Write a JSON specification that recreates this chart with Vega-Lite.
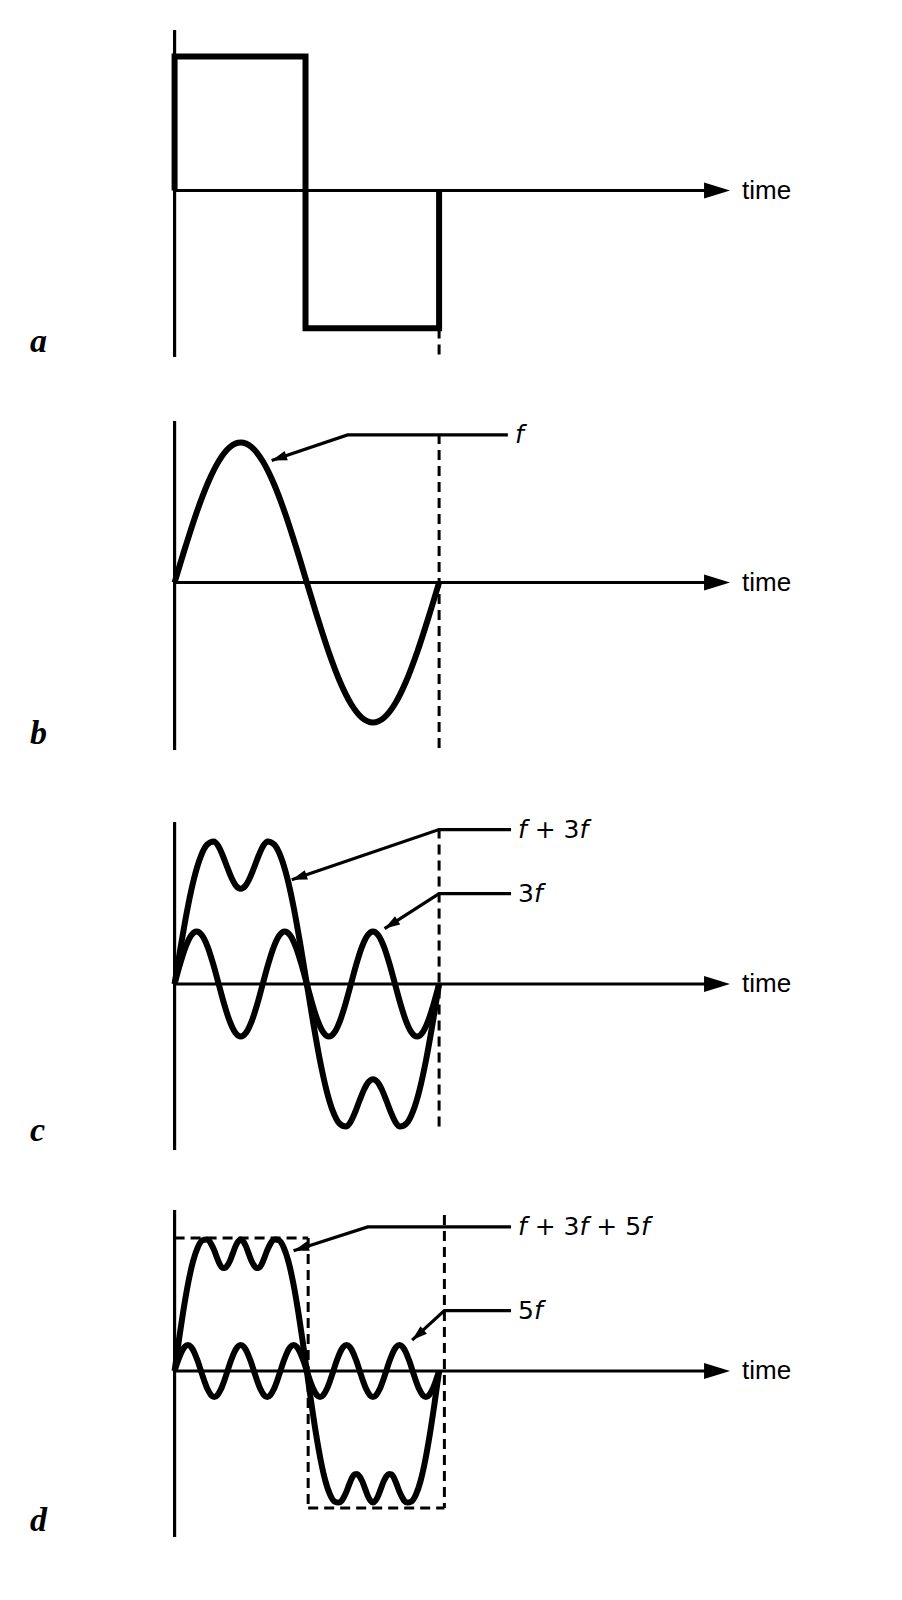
{
  "$schema": "https://vega.github.io/schema/vega-lite/v6.json",
  "padding": 0,
  "spacing": 0,
  "bounds": "flush",
  "background": "white",
  "config": {"view": {"stroke": null}},
  "datasets": {
    "axes": [
      {"panel": "a", "kind": "axis", "t": 0, "t2": 0, "v": 1.146, "v2": -1.189},
      {"panel": "a", "kind": "axis", "t": 0, "t2": 2.05, "v": 0, "v2": 0},
      {"panel": "a", "kind": "guide", "t": 1, "t2": 1, "v": -0.985, "v2": -1.189},
      {"panel": "b", "kind": "axis", "t": 0, "t2": 0, "v": 1.154, "v2": -1.196},
      {"panel": "b", "kind": "axis", "t": 0, "t2": 2.05, "v": 0, "v2": 0},
      {"panel": "b", "kind": "guide", "t": 1, "t2": 1, "v": 1.061, "v2": -1.196},
      {"panel": "c", "kind": "axis", "t": 0, "t2": 0, "v": 1.157, "v2": -1.186},
      {"panel": "c", "kind": "axis", "t": 0, "t2": 2.05, "v": 0, "v2": 0},
      {"panel": "c", "kind": "guide", "t": 1, "t2": 1, "v": 1.11, "v2": -1.054},
      {"panel": "d", "kind": "axis", "t": 0, "t2": 0, "v": 1.15, "v2": -1.186},
      {"panel": "d", "kind": "axis", "t": 0, "t2": 2.05, "v": 0, "v2": 0},
      {"panel": "d", "kind": "guide", "t": 0, "t2": 0.505, "v": 0.95, "v2": 0.95},
      {"panel": "d", "kind": "guide", "t": 0.505, "t2": 0.505, "v": 0.95, "v2": -0.979},
      {"panel": "d", "kind": "guide", "t": 0.505, "t2": 1.02, "v": -0.979, "v2": -0.979},
      {"panel": "d", "kind": "guide", "t": 1.02, "t2": 1.02, "v": 1.114, "v2": -0.979}
    ],
    "axisTips": [
      {"panel": "a", "t": 2.1, "v": 0},
      {"panel": "b", "t": 2.1, "v": 0},
      {"panel": "c", "t": 2.1, "v": 0},
      {"panel": "d", "t": 2.1, "v": 0}
    ],
    "timeLabels": [
      {"panel": "a", "t": 2.145, "v": 0, "text": "time"},
      {"panel": "b", "t": 2.145, "v": 0, "text": "time"},
      {"panel": "c", "t": 2.145, "v": 0, "text": "time"},
      {"panel": "d", "t": 2.145, "v": 0, "text": "time"}
    ],
    "letters": [
      {"panel": "a", "t": -0.547, "v": -1.154, "text": "a"},
      {"panel": "b", "t": -0.547, "v": -1.154, "text": "b"},
      {"panel": "c", "t": -0.547, "v": -1.121, "text": "c"},
      {"panel": "d", "t": -0.547, "v": -1.143, "text": "d"}
    ],
    "square": [
      {"seq": 0, "t": 0, "v": 0},
      {"seq": 1, "t": 0, "v": 0.957},
      {"seq": 2, "t": 0.495, "v": 0.957},
      {"seq": 3, "t": 0.495, "v": -0.984},
      {"seq": 4, "t": 1, "v": -0.984},
      {"seq": 5, "t": 1, "v": 0}
    ],
    "sineF": [
      {"t": 0, "v": 0}, {"t": 0.0417, "v": 0.2588}, {"t": 0.0833, "v": 0.5}, {"t": 0.125, "v": 0.7071},
      {"t": 0.1667, "v": 0.866}, {"t": 0.2083, "v": 0.9659}, {"t": 0.25, "v": 1}, {"t": 0.2917, "v": 0.9659},
      {"t": 0.3333, "v": 0.866}, {"t": 0.375, "v": 0.7071}, {"t": 0.4167, "v": 0.5}, {"t": 0.4583, "v": 0.2588},
      {"t": 0.5, "v": 0}, {"t": 0.5417, "v": -0.2588}, {"t": 0.5833, "v": -0.5}, {"t": 0.625, "v": -0.7071},
      {"t": 0.6667, "v": -0.866}, {"t": 0.7083, "v": -0.9659}, {"t": 0.75, "v": -1}, {"t": 0.7917, "v": -0.9659},
      {"t": 0.8333, "v": -0.866}, {"t": 0.875, "v": -0.7071}, {"t": 0.9167, "v": -0.5}, {"t": 0.9583, "v": -0.2588},
      {"t": 1, "v": 0}
    ],
    "sumC": [
      {"t": 0, "v": 0}, {"t": 0.0247, "v": 0.2837}, {"t": 0.0493, "v": 0.543}, {"t": 0.074, "v": 0.7568},
      {"t": 0.0987, "v": 0.91}, {"t": 0.1233, "v": 0.9964}, {"t": 0.148, "v": 1.0182}, {"t": 0.165, "v": 0.9864},
      {"t": 0.182, "v": 0.918}, {"t": 0.199, "v": 0.8339}, {"t": 0.216, "v": 0.7552}, {"t": 0.233, "v": 0.6998},
      {"t": 0.25, "v": 0.68}, {"t": 0.267, "v": 0.6998}, {"t": 0.284, "v": 0.7552}, {"t": 0.301, "v": 0.8339},
      {"t": 0.318, "v": 0.918}, {"t": 0.335, "v": 0.9864}, {"t": 0.352, "v": 1.0182}, {"t": 0.3767, "v": 0.9964},
      {"t": 0.4013, "v": 0.91}, {"t": 0.426, "v": 0.7568}, {"t": 0.4507, "v": 0.543}, {"t": 0.4753, "v": 0.2837},
      {"t": 0.5, "v": 0}, {"t": 0.5247, "v": -0.2837}, {"t": 0.5493, "v": -0.543}, {"t": 0.574, "v": -0.7568},
      {"t": 0.5987, "v": -0.91}, {"t": 0.6233, "v": -0.9964}, {"t": 0.648, "v": -1.0182}, {"t": 0.665, "v": -0.9864},
      {"t": 0.682, "v": -0.918}, {"t": 0.699, "v": -0.8339}, {"t": 0.716, "v": -0.7552}, {"t": 0.733, "v": -0.6998},
      {"t": 0.75, "v": -0.68}, {"t": 0.767, "v": -0.6998}, {"t": 0.784, "v": -0.7552}, {"t": 0.801, "v": -0.8339},
      {"t": 0.818, "v": -0.918}, {"t": 0.835, "v": -0.9864}, {"t": 0.852, "v": -1.0182}, {"t": 0.8767, "v": -0.9964},
      {"t": 0.9013, "v": -0.91}, {"t": 0.926, "v": -0.7568}, {"t": 0.9507, "v": -0.543}, {"t": 0.9753, "v": -0.2837},
      {"t": 1, "v": 0}
    ],
    "threeF": [
      {"t": 0, "v": 0}, {"t": 0.0208, "v": 0.1435}, {"t": 0.0417, "v": 0.2652}, {"t": 0.0625, "v": 0.3465},
      {"t": 0.0833, "v": 0.375}, {"t": 0.1042, "v": 0.3465}, {"t": 0.125, "v": 0.2652}, {"t": 0.1458, "v": 0.1435},
      {"t": 0.1667, "v": 0}, {"t": 0.1875, "v": -0.1435}, {"t": 0.2083, "v": -0.2652}, {"t": 0.2292, "v": -0.3465},
      {"t": 0.25, "v": -0.375}, {"t": 0.2708, "v": -0.3465}, {"t": 0.2917, "v": -0.2652}, {"t": 0.3125, "v": -0.1435},
      {"t": 0.3333, "v": 0}, {"t": 0.3542, "v": 0.1435}, {"t": 0.375, "v": 0.2652}, {"t": 0.3958, "v": 0.3465},
      {"t": 0.4167, "v": 0.375}, {"t": 0.4375, "v": 0.3465}, {"t": 0.4583, "v": 0.2652}, {"t": 0.4792, "v": 0.1435},
      {"t": 0.5, "v": 0}, {"t": 0.5208, "v": -0.1435}, {"t": 0.5417, "v": -0.2652}, {"t": 0.5625, "v": -0.3465},
      {"t": 0.5833, "v": -0.375}, {"t": 0.6042, "v": -0.3465}, {"t": 0.625, "v": -0.2652}, {"t": 0.6458, "v": -0.1435},
      {"t": 0.6667, "v": 0}, {"t": 0.6875, "v": 0.1435}, {"t": 0.7083, "v": 0.2652}, {"t": 0.7292, "v": 0.3465},
      {"t": 0.75, "v": 0.375}, {"t": 0.7708, "v": 0.3465}, {"t": 0.7917, "v": 0.2652}, {"t": 0.8125, "v": 0.1435},
      {"t": 0.8333, "v": 0}, {"t": 0.8542, "v": -0.1435}, {"t": 0.875, "v": -0.2652}, {"t": 0.8958, "v": -0.3465},
      {"t": 0.9167, "v": -0.375}, {"t": 0.9375, "v": -0.3465}, {"t": 0.9583, "v": -0.2652}, {"t": 0.9792, "v": -0.1435},
      {"t": 1, "v": 0}
    ],
    "sumD": [
      {"t": 0, "v": 0}, {"t": 0.0175, "v": 0.2345}, {"t": 0.035, "v": 0.4524}, {"t": 0.0525, "v": 0.6393},
      {"t": 0.07, "v": 0.7847}, {"t": 0.0875, "v": 0.8827}, {"t": 0.105, "v": 0.9328}, {"t": 0.1203, "v": 0.94},
      {"t": 0.1303, "v": 0.93}, {"t": 0.1403, "v": 0.9}, {"t": 0.1503, "v": 0.86}, {"t": 0.1602, "v": 0.81},
      {"t": 0.1702, "v": 0.765}, {"t": 0.1802, "v": 0.738}, {"t": 0.1902, "v": 0.735}, {"t": 0.2001, "v": 0.755},
      {"t": 0.2101, "v": 0.79}, {"t": 0.2201, "v": 0.84}, {"t": 0.2301, "v": 0.89}, {"t": 0.24, "v": 0.925},
      {"t": 0.25, "v": 0.94}, {"t": 0.26, "v": 0.925}, {"t": 0.2699, "v": 0.89}, {"t": 0.2799, "v": 0.84},
      {"t": 0.2899, "v": 0.79}, {"t": 0.2999, "v": 0.755}, {"t": 0.3098, "v": 0.735}, {"t": 0.3198, "v": 0.738},
      {"t": 0.3298, "v": 0.765}, {"t": 0.3397, "v": 0.81}, {"t": 0.3497, "v": 0.86}, {"t": 0.3597, "v": 0.9},
      {"t": 0.3697, "v": 0.93}, {"t": 0.3797, "v": 0.94}, {"t": 0.395, "v": 0.9328}, {"t": 0.4125, "v": 0.8827},
      {"t": 0.43, "v": 0.7847}, {"t": 0.4475, "v": 0.6393}, {"t": 0.465, "v": 0.4524}, {"t": 0.4825, "v": 0.2345},
      {"t": 0.5, "v": 0},
      {"t": 0.5175, "v": -0.2345}, {"t": 0.535, "v": -0.4524}, {"t": 0.5525, "v": -0.6393},
      {"t": 0.57, "v": -0.7847}, {"t": 0.5875, "v": -0.8827}, {"t": 0.605, "v": -0.9328}, {"t": 0.6203, "v": -0.94},
      {"t": 0.6303, "v": -0.93}, {"t": 0.6403, "v": -0.9}, {"t": 0.6503, "v": -0.86}, {"t": 0.6602, "v": -0.81},
      {"t": 0.6702, "v": -0.765}, {"t": 0.6802, "v": -0.738}, {"t": 0.6902, "v": -0.735}, {"t": 0.7001, "v": -0.755},
      {"t": 0.7101, "v": -0.79}, {"t": 0.7201, "v": -0.84}, {"t": 0.7301, "v": -0.89}, {"t": 0.74, "v": -0.925},
      {"t": 0.75, "v": -0.94}, {"t": 0.76, "v": -0.925}, {"t": 0.7699, "v": -0.89}, {"t": 0.7799, "v": -0.84},
      {"t": 0.7899, "v": -0.79}, {"t": 0.7999, "v": -0.755}, {"t": 0.8098, "v": -0.735}, {"t": 0.8198, "v": -0.738},
      {"t": 0.8298, "v": -0.765}, {"t": 0.8397, "v": -0.81}, {"t": 0.8497, "v": -0.86}, {"t": 0.8597, "v": -0.9},
      {"t": 0.8697, "v": -0.93}, {"t": 0.8797, "v": -0.94}, {"t": 0.895, "v": -0.9328}, {"t": 0.9125, "v": -0.8827},
      {"t": 0.93, "v": -0.7847}, {"t": 0.9475, "v": -0.6393}, {"t": 0.965, "v": -0.4524}, {"t": 0.9825, "v": -0.2345},
      {"t": 1, "v": 0}
    ],
    "fiveF": [
      {"t": 0, "v": 0}, {"t": 0.0125, "v": 0.0708}, {"t": 0.025, "v": 0.1308}, {"t": 0.0375, "v": 0.1709},
      {"t": 0.05, "v": 0.185}, {"t": 0.0625, "v": 0.1709}, {"t": 0.075, "v": 0.1308}, {"t": 0.0875, "v": 0.0708},
      {"t": 0.1, "v": 0}, {"t": 0.1125, "v": -0.0708}, {"t": 0.125, "v": -0.1308}, {"t": 0.1375, "v": -0.1709},
      {"t": 0.15, "v": -0.185}, {"t": 0.1625, "v": -0.1709}, {"t": 0.175, "v": -0.1308}, {"t": 0.1875, "v": -0.0708},
      {"t": 0.2, "v": 0}, {"t": 0.2125, "v": 0.0708}, {"t": 0.225, "v": 0.1308}, {"t": 0.2375, "v": 0.1709},
      {"t": 0.25, "v": 0.185}, {"t": 0.2625, "v": 0.1709}, {"t": 0.275, "v": 0.1308}, {"t": 0.2875, "v": 0.0708},
      {"t": 0.3, "v": 0}, {"t": 0.3125, "v": -0.0708}, {"t": 0.325, "v": -0.1308}, {"t": 0.3375, "v": -0.1709},
      {"t": 0.35, "v": -0.185}, {"t": 0.3625, "v": -0.1709}, {"t": 0.375, "v": -0.1308}, {"t": 0.3875, "v": -0.0708},
      {"t": 0.4, "v": 0}, {"t": 0.4125, "v": 0.0708}, {"t": 0.425, "v": 0.1308}, {"t": 0.4375, "v": 0.1709},
      {"t": 0.45, "v": 0.185}, {"t": 0.4625, "v": 0.1709}, {"t": 0.475, "v": 0.1308}, {"t": 0.4875, "v": 0.0708},
      {"t": 0.5, "v": 0}, {"t": 0.5125, "v": -0.0708}, {"t": 0.525, "v": -0.1308}, {"t": 0.5375, "v": -0.1709},
      {"t": 0.55, "v": -0.185}, {"t": 0.5625, "v": -0.1709}, {"t": 0.575, "v": -0.1308}, {"t": 0.5875, "v": -0.0708},
      {"t": 0.6, "v": 0}, {"t": 0.6125, "v": 0.0708}, {"t": 0.625, "v": 0.1308}, {"t": 0.6375, "v": 0.1709},
      {"t": 0.65, "v": 0.185}, {"t": 0.6625, "v": 0.1709}, {"t": 0.675, "v": 0.1308}, {"t": 0.6875, "v": 0.0708},
      {"t": 0.7, "v": 0}, {"t": 0.7125, "v": -0.0708}, {"t": 0.725, "v": -0.1308}, {"t": 0.7375, "v": -0.1709},
      {"t": 0.75, "v": -0.185}, {"t": 0.7625, "v": -0.1709}, {"t": 0.775, "v": -0.1308}, {"t": 0.7875, "v": -0.0708},
      {"t": 0.8, "v": 0}, {"t": 0.8125, "v": 0.0708}, {"t": 0.825, "v": 0.1308}, {"t": 0.8375, "v": 0.1709},
      {"t": 0.85, "v": 0.185}, {"t": 0.8625, "v": 0.1709}, {"t": 0.875, "v": 0.1308}, {"t": 0.8875, "v": 0.0708},
      {"t": 0.9, "v": 0}, {"t": 0.9125, "v": -0.0708}, {"t": 0.925, "v": -0.1308}, {"t": 0.9375, "v": -0.1709},
      {"t": 0.95, "v": -0.185}, {"t": 0.9625, "v": -0.1709}, {"t": 0.975, "v": -0.1308}, {"t": 0.9875, "v": -0.0708},
      {"t": 1, "v": 0}
    ],
    "leaders": [
      {"panel": "b", "id": "f", "seq": 0, "t": 0.367, "v": 0.871},
      {"panel": "b", "id": "f", "seq": 1, "t": 0.654, "v": 1.054},
      {"panel": "b", "id": "f", "seq": 2, "t": 1.26, "v": 1.054},
      {"panel": "c", "id": "f+3f", "seq": 0, "t": 0.443, "v": 0.744},
      {"panel": "c", "id": "f+3f", "seq": 1, "t": 1.0, "v": 1.103},
      {"panel": "c", "id": "f+3f", "seq": 2, "t": 1.272, "v": 1.103},
      {"panel": "c", "id": "3f", "seq": 0, "t": 0.794, "v": 0.396},
      {"panel": "c", "id": "3f", "seq": 1, "t": 1.0, "v": 0.646},
      {"panel": "c", "id": "3f", "seq": 2, "t": 1.272, "v": 0.646},
      {"panel": "d", "id": "f+3f+5f", "seq": 0, "t": 0.45, "v": 0.859},
      {"panel": "d", "id": "f+3f+5f", "seq": 1, "t": 0.73, "v": 1.029},
      {"panel": "d", "id": "f+3f+5f", "seq": 2, "t": 1.272, "v": 1.029},
      {"panel": "d", "id": "5f", "seq": 0, "t": 0.898, "v": 0.221},
      {"panel": "d", "id": "5f", "seq": 1, "t": 1.02, "v": 0.431},
      {"panel": "d", "id": "5f", "seq": 2, "t": 1.272, "v": 0.431}
    ],
    "labels": [
      {"panel": "b", "role": "var", "t": 1.287, "v": 1.054, "text": "f"},
      {"panel": "c", "role": "var", "t": 1.2983, "v": 1.103, "text": "f"},
      {"panel": "c", "role": "op", "t": 1.3614, "v": 1.103, "text": "+ 3"},
      {"panel": "c", "role": "var", "t": 1.5312, "v": 1.103, "text": "f"},
      {"panel": "c", "role": "op", "t": 1.2983, "v": 0.646, "text": "3"},
      {"panel": "c", "role": "var", "t": 1.3584, "v": 0.646, "text": "f"},
      {"panel": "d", "role": "var", "t": 1.2983, "v": 1.029, "text": "f"},
      {"panel": "d", "role": "op", "t": 1.3615, "v": 1.029, "text": "+ 3"},
      {"panel": "d", "role": "var", "t": 1.531, "v": 1.029, "text": "f"},
      {"panel": "d", "role": "op", "t": 1.5941, "v": 1.029, "text": "+ 5"},
      {"panel": "d", "role": "var", "t": 1.7637, "v": 1.029, "text": "f"},
      {"panel": "d", "role": "op", "t": 1.2983, "v": 0.431, "text": "5"},
      {"panel": "d", "role": "var", "t": 1.3584, "v": 0.431, "text": "f"}
    ]
  },
  "vconcat": [
    {
      "width": 902, "height": 400,
      "encoding": {
        "x": {"field": "t", "type": "quantitative", "scale": {"domain": [-0.66, 2.75], "nice": false, "zero": false}, "axis": null},
        "y": {"field": "v", "type": "quantitative", "scale": {"domain": [-1.4964, 1.3607], "nice": false, "zero": false}, "axis": null}
      },
      "layer": [
        {"data": {"name": "axes"}, "transform": [{"filter": "datum.panel === 'a' && datum.kind === 'guide'"}],
         "mark": {"type": "rule", "color": "black", "strokeWidth": 3, "strokeDash": [10, 6]},
         "encoding": {"x2": {"field": "t2"}, "y2": {"field": "v2"}}},
        {"data": {"name": "axes"}, "transform": [{"filter": "datum.panel === 'a' && datum.kind === 'axis'"}],
         "mark": {"type": "rule", "color": "black", "strokeWidth": 3.2},
         "encoding": {"x2": {"field": "t2"}, "y2": {"field": "v2"}}},
        {"data": {"name": "axisTips"}, "transform": [{"filter": "datum.panel === 'a'"}],
         "mark": {"type": "point", "shape": "M -2 -0.62 L 0 0 L -2 0.62 Z", "size": 676, "filled": true, "color": "black", "opacity": 1, "strokeWidth": 0}},
        {"data": {"name": "square"},
         "mark": {"type": "line", "color": "black", "strokeWidth": 6, "strokeJoin": "miter"},
         "encoding": {"order": {"field": "seq", "type": "quantitative"}}},
        {"data": {"name": "timeLabels"}, "transform": [{"filter": "datum.panel === 'a'"}],
         "mark": {"type": "text", "font": "Liberation Sans", "fontSize": 26, "align": "left", "baseline": "middle", "color": "black"},
         "encoding": {"text": {"field": "text"}}},
        {"data": {"name": "letters"}, "transform": [{"filter": "datum.panel === 'a'"}],
         "mark": {"type": "text", "font": "Liberation Serif", "fontSize": 34, "fontWeight": "bold", "fontStyle": "italic", "align": "left", "baseline": "alphabetic", "color": "black"},
         "encoding": {"text": {"field": "text"}}}
      ]
    },
    {
      "width": 902, "height": 400,
      "encoding": {
        "x": {"field": "t", "type": "quantitative", "scale": {"domain": [-0.66, 2.75], "nice": false, "zero": false}, "axis": null},
        "y": {"field": "v", "type": "quantitative", "scale": {"domain": [-1.5535, 1.3036], "nice": false, "zero": false}, "axis": null}
      },
      "layer": [
        {"data": {"name": "axes"}, "transform": [{"filter": "datum.panel === 'b' && datum.kind === 'guide'"}],
         "mark": {"type": "rule", "color": "black", "strokeWidth": 3, "strokeDash": [10, 6]},
         "encoding": {"x2": {"field": "t2"}, "y2": {"field": "v2"}}},
        {"data": {"name": "axes"}, "transform": [{"filter": "datum.panel === 'b' && datum.kind === 'axis'"}],
         "mark": {"type": "rule", "color": "black", "strokeWidth": 3.2},
         "encoding": {"x2": {"field": "t2"}, "y2": {"field": "v2"}}},
        {"data": {"name": "axisTips"}, "transform": [{"filter": "datum.panel === 'b'"}],
         "mark": {"type": "point", "shape": "M -2 -0.62 L 0 0 L -2 0.62 Z", "size": 676, "filled": true, "color": "black", "opacity": 1, "strokeWidth": 0}},
        {"data": {"name": "sineF"},
         "mark": {"type": "line", "color": "black", "strokeWidth": 6, "interpolate": "monotone"},
         "encoding": {}},
        {"data": {"name": "leaders"}, "transform": [{"filter": "datum.panel === 'b'"}],
         "mark": {"type": "line", "color": "black", "strokeWidth": 3.2},
         "encoding": {"detail": {"field": "id"}, "order": {"field": "seq", "type": "quantitative"}}},
        {"data": {"name": "leaders"}, "transform": [{"filter": "datum.id === 'f' && datum.seq === 0"}],
         "mark": {"type": "point", "shape": "M -2.2 -0.7 L 0 0 L -2.2 0.7 Z", "size": 196, "angle": 161.4, "filled": true, "color": "black", "opacity": 1, "strokeWidth": 0}},
        {"data": {"name": "labels"}, "transform": [{"filter": "datum.panel === 'b' && datum.role === 'var'"}],
         "mark": {"type": "text", "font": "DejaVu Sans", "fontSize": 25, "fontStyle": "italic", "align": "left", "baseline": "middle", "color": "black"},
         "encoding": {"text": {"field": "text"}}},
        {"data": {"name": "timeLabels"}, "transform": [{"filter": "datum.panel === 'b'"}],
         "mark": {"type": "text", "font": "Liberation Sans", "fontSize": 26, "align": "left", "baseline": "middle", "color": "black"},
         "encoding": {"text": {"field": "text"}}},
        {"data": {"name": "letters"}, "transform": [{"filter": "datum.panel === 'b'"}],
         "mark": {"type": "text", "font": "Liberation Serif", "fontSize": 34, "fontWeight": "bold", "fontStyle": "italic", "align": "left", "baseline": "alphabetic", "color": "black"},
         "encoding": {"text": {"field": "text"}}}
      ]
    },
    {
      "width": 902, "height": 400,
      "encoding": {
        "x": {"field": "t", "type": "quantitative", "scale": {"domain": [-0.66, 2.75], "nice": false, "zero": false}, "axis": null},
        "y": {"field": "v", "type": "quantitative", "scale": {"domain": [-1.5428, 1.3143], "nice": false, "zero": false}, "axis": null}
      },
      "layer": [
        {"data": {"name": "axes"}, "transform": [{"filter": "datum.panel === 'c' && datum.kind === 'guide'"}],
         "mark": {"type": "rule", "color": "black", "strokeWidth": 3, "strokeDash": [10, 6]},
         "encoding": {"x2": {"field": "t2"}, "y2": {"field": "v2"}}},
        {"data": {"name": "axes"}, "transform": [{"filter": "datum.panel === 'c' && datum.kind === 'axis'"}],
         "mark": {"type": "rule", "color": "black", "strokeWidth": 3.2},
         "encoding": {"x2": {"field": "t2"}, "y2": {"field": "v2"}}},
        {"data": {"name": "axisTips"}, "transform": [{"filter": "datum.panel === 'c'"}],
         "mark": {"type": "point", "shape": "M -2 -0.62 L 0 0 L -2 0.62 Z", "size": 676, "filled": true, "color": "black", "opacity": 1, "strokeWidth": 0}},
        {"data": {"name": "sumC"},
         "mark": {"type": "line", "color": "black", "strokeWidth": 6, "interpolate": "monotone"},
         "encoding": {}},
        {"data": {"name": "threeF"},
         "mark": {"type": "line", "color": "black", "strokeWidth": 6, "interpolate": "monotone"},
         "encoding": {}},
        {"data": {"name": "leaders"}, "transform": [{"filter": "datum.panel === 'c'"}],
         "mark": {"type": "line", "color": "black", "strokeWidth": 3.2},
         "encoding": {"detail": {"field": "id"}, "order": {"field": "seq", "type": "quantitative"}}},
        {"data": {"name": "leaders"}, "transform": [{"filter": "datum.id === 'f+3f' && datum.seq === 0"}],
         "mark": {"type": "point", "shape": "M -2.2 -0.7 L 0 0 L -2.2 0.7 Z", "size": 196, "angle": 161.3, "filled": true, "color": "black", "opacity": 1, "strokeWidth": 0}},
        {"data": {"name": "leaders"}, "transform": [{"filter": "datum.id === '3f' && datum.seq === 0"}],
         "mark": {"type": "point", "shape": "M -2.2 -0.7 L 0 0 L -2.2 0.7 Z", "size": 196, "angle": 147.7, "filled": true, "color": "black", "opacity": 1, "strokeWidth": 0}},
        {"data": {"name": "labels"}, "transform": [{"filter": "datum.panel === 'c' && datum.role === 'var'"}],
         "mark": {"type": "text", "font": "DejaVu Sans", "fontSize": 25, "fontStyle": "italic", "align": "left", "baseline": "middle", "color": "black"},
         "encoding": {"text": {"field": "text"}}},
        {"data": {"name": "labels"}, "transform": [{"filter": "datum.panel === 'c' && datum.role === 'op'"}],
         "mark": {"type": "text", "font": "DejaVu Sans", "fontSize": 25, "align": "left", "baseline": "middle", "color": "black"},
         "encoding": {"text": {"field": "text"}}},
        {"data": {"name": "timeLabels"}, "transform": [{"filter": "datum.panel === 'c'"}],
         "mark": {"type": "text", "font": "Liberation Sans", "fontSize": 26, "align": "left", "baseline": "middle", "color": "black"},
         "encoding": {"text": {"field": "text"}}},
        {"data": {"name": "letters"}, "transform": [{"filter": "datum.panel === 'c'"}],
         "mark": {"type": "text", "font": "Liberation Serif", "fontSize": 34, "fontWeight": "bold", "fontStyle": "italic", "align": "left", "baseline": "alphabetic", "color": "black"},
         "encoding": {"text": {"field": "text"}}}
      ]
    },
    {
      "width": 902, "height": 400,
      "encoding": {
        "x": {"field": "t", "type": "quantitative", "scale": {"domain": [-0.66, 2.75], "nice": false, "zero": false}, "axis": null},
        "y": {"field": "v", "type": "quantitative", "scale": {"domain": [-1.6357, 1.2214], "nice": false, "zero": false}, "axis": null}
      },
      "layer": [
        {"data": {"name": "axes"}, "transform": [{"filter": "datum.panel === 'd' && datum.kind === 'guide'"}],
         "mark": {"type": "rule", "color": "black", "strokeWidth": 3, "strokeDash": [10, 6]},
         "encoding": {"x2": {"field": "t2"}, "y2": {"field": "v2"}}},
        {"data": {"name": "axes"}, "transform": [{"filter": "datum.panel === 'd' && datum.kind === 'axis'"}],
         "mark": {"type": "rule", "color": "black", "strokeWidth": 3.2},
         "encoding": {"x2": {"field": "t2"}, "y2": {"field": "v2"}}},
        {"data": {"name": "axisTips"}, "transform": [{"filter": "datum.panel === 'd'"}],
         "mark": {"type": "point", "shape": "M -2 -0.62 L 0 0 L -2 0.62 Z", "size": 676, "filled": true, "color": "black", "opacity": 1, "strokeWidth": 0}},
        {"data": {"name": "sumD"},
         "mark": {"type": "line", "color": "black", "strokeWidth": 6, "interpolate": "monotone"},
         "encoding": {}},
        {"data": {"name": "fiveF"},
         "mark": {"type": "line", "color": "black", "strokeWidth": 6, "interpolate": "monotone"},
         "encoding": {}},
        {"data": {"name": "leaders"}, "transform": [{"filter": "datum.panel === 'd'"}],
         "mark": {"type": "line", "color": "black", "strokeWidth": 3.2},
         "encoding": {"detail": {"field": "id"}, "order": {"field": "seq", "type": "quantitative"}}},
        {"data": {"name": "leaders"}, "transform": [{"filter": "datum.id === 'f+3f+5f' && datum.seq === 0"}],
         "mark": {"type": "point", "shape": "M -2.2 -0.7 L 0 0 L -2.2 0.7 Z", "size": 196, "angle": 162.3, "filled": true, "color": "black", "opacity": 1, "strokeWidth": 0}},
        {"data": {"name": "leaders"}, "transform": [{"filter": "datum.id === '5f' && datum.seq === 0"}],
         "mark": {"type": "point", "shape": "M -2.2 -0.7 L 0 0 L -2.2 0.7 Z", "size": 196, "angle": 138.9, "filled": true, "color": "black", "opacity": 1, "strokeWidth": 0}},
        {"data": {"name": "labels"}, "transform": [{"filter": "datum.panel === 'd' && datum.role === 'var'"}],
         "mark": {"type": "text", "font": "DejaVu Sans", "fontSize": 25, "fontStyle": "italic", "align": "left", "baseline": "middle", "color": "black"},
         "encoding": {"text": {"field": "text"}}},
        {"data": {"name": "labels"}, "transform": [{"filter": "datum.panel === 'd' && datum.role === 'op'"}],
         "mark": {"type": "text", "font": "DejaVu Sans", "fontSize": 25, "align": "left", "baseline": "middle", "color": "black"},
         "encoding": {"text": {"field": "text"}}},
        {"data": {"name": "timeLabels"}, "transform": [{"filter": "datum.panel === 'd'"}],
         "mark": {"type": "text", "font": "Liberation Sans", "fontSize": 26, "align": "left", "baseline": "middle", "color": "black"},
         "encoding": {"text": {"field": "text"}}},
        {"data": {"name": "letters"}, "transform": [{"filter": "datum.panel === 'd'"}],
         "mark": {"type": "text", "font": "Liberation Serif", "fontSize": 34, "fontWeight": "bold", "fontStyle": "italic", "align": "left", "baseline": "alphabetic", "color": "black"},
         "encoding": {"text": {"field": "text"}}}
      ]
    }
  ]
}
